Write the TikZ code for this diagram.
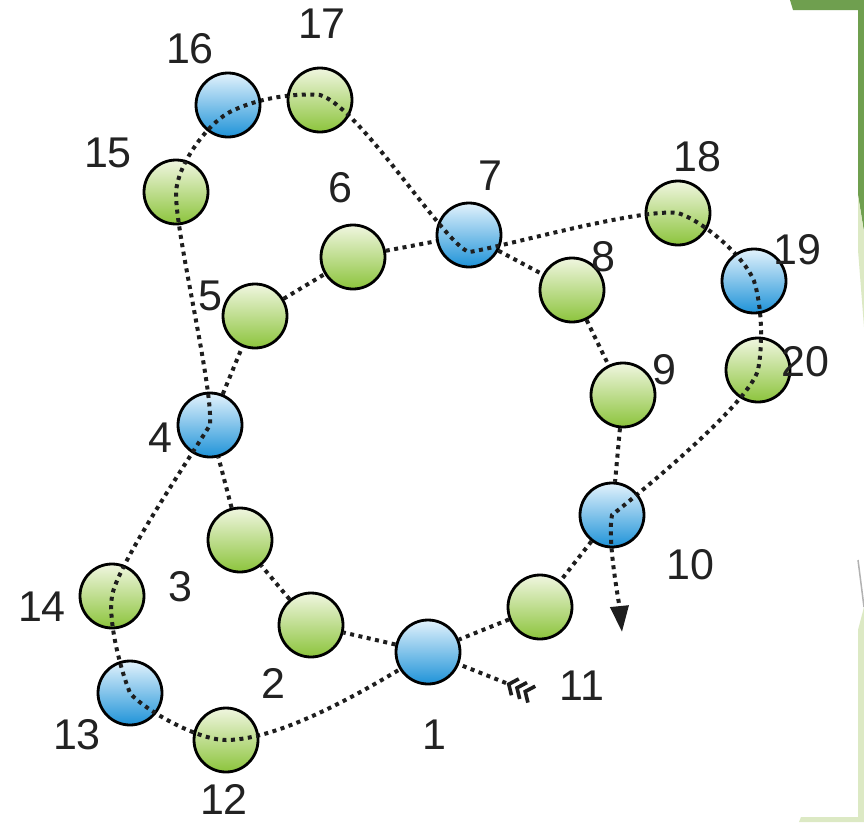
\documentclass[tikz,border=0pt]{standalone}
\usepackage{fontspec}
\setmainfont{Liberation Sans}
\usetikzlibrary{arrows.meta,calc,backgrounds}
\definecolor{gtop}{HTML}{F0F6E0}
\definecolor{gmid}{HTML}{C5DF90}
\definecolor{gbot}{HTML}{8CC43C}
\definecolor{btop}{HTML}{E2F2FC}
\definecolor{bmid}{HTML}{8ACBF0}
\definecolor{bbot}{HTML}{1F93D8}
\definecolor{dotc}{HTML}{1E1E1E}
\definecolor{dkgreen}{HTML}{6F9F4F}
\definecolor{ltgreen}{HTML}{DCE9C4}
\definecolor{txt}{HTML}{222222}
\newcommand\outerroute{(T) -- (n1.center)
 .. controls +(-45,28) and +(60,0) .. (n12.center)
 .. controls +(-30,0) and +(12,15) .. (n13.center)
 .. controls +(-10,-25) and +(-4,25) .. (n14.center)
 .. controls +(5,-30) and +(-25,40) .. (n4.center)
 .. controls +(3,-40) and +(-1,40) .. (n15.center)
 .. controls +(2,-28) and +(-22,13) .. (d16)
 .. controls +(30,-16) and +(-22,-2) .. (d17)
 .. controls +(40,12) and +(-25,-8) .. (d7)
 .. controls +(25,-3) and +(-40,-5) .. (n18.center)
 .. controls +(25,8) and +(-10,-25) .. (n19.center)
 .. controls +(8,25) and +(5,-25) .. (n20.center)
 .. controls +(-10,35) and +(25,-20) .. (n10.center)
 .. controls +(-5,25) and +(-3,-30) .. (A)}
\begin{document}
\begin{tikzpicture}[x=1pt,y=-1pt,
  ball/.style={circle, minimum size=64pt, inner sep=0pt, draw=black, line width=2.8pt},
  gball/.style={ball, top color=gtop, middle color=gmid, bottom color=gbot},
  bball/.style={ball, top color=btop, middle color=bmid, bottom color=bbot},
  lbl/.style={font=\fontsize{43}{43}\selectfont, text=txt, inner sep=0pt},
  dotline/.style={draw=dotc, line width=4pt, dash pattern=on 4pt off 4.5pt},
  feather/.style={draw=dotc, line width=3.6pt},
]
\useasboundingbox (0,0) rectangle (864,822);

% nodes
\node[bball] (n1) at (428,652) {};
\node[gball] (n2) at (311,625) {};
\node[gball] (n3) at (240,540) {};
\node[bball] (n4) at (210,425) {};
\node[gball] (n5) at (255,316) {};
\node[gball] (n6) at (353,257) {};
\node[bball] (n7) at (469,235) {};
\node[gball] (n8) at (572,290) {};
\node[gball] (n9) at (623,395) {};
\node[bball] (n10) at (612,515) {};
\node[gball] (n11) at (540,607) {};
\node[gball] (n12) at (226,740) {};
\node[bball] (n13) at (130,693) {};
\node[gball] (n14) at (112,596) {};
\node[gball] (n15) at (176,192) {};
\node[bball] (n16) at (228,105) {};
\node[gball] (n17) at (320,100) {};
\node[gball] (n18) at (678,213) {};
\node[bball] (n19) at (754,281) {};
\node[gball] (n20) at (758,370) {};

\coordinate (T) at (506,683);
\coordinate (d7) at ($(n7)+(0,17)$);
\coordinate (d16) at ($(n16)+(0,8)$);
\coordinate (d17) at ($(n17)+(0,-5)$);
\coordinate (A) at (622,632);

\begin{pgfonlayer}{background}
  \fill[white] (0,0) rectangle (864,822);
  % slide decorations at the right edge
  \fill[dkgreen] (790,0) -- (864,0) -- (864,232) -- (858,195) -- (858,10) -- (793,10) -- cycle;
  \fill[ltgreen] (858,195) -- (864,232) -- (864,327) -- (858,250) -- cycle;
  \draw[gray!60, line width=1.5pt] (858,560) -- (864,607);
  \fill[ltgreen] (858,630) -- (864,607) -- (864,822) -- (799,822) -- (801,817) -- (858,817) -- cycle;
  % main loop
  \draw[dotline] (n1) edge (n2) (n2) edge (n3) (n3) edge (n4) (n4) edge (n5)
    (n5) edge (n6) (n6) edge (n7) (n7) edge (n8) (n8) edge (n9) (n9) edge (n10)
    (n10) edge (n11) (n11) edge (n1);
  % outer route behind the balls
  \draw[dotline, -{Triangle[length=26pt,width=18pt]}] \outerroute;
\end{pgfonlayer}

% outer route seen on top of the balls
\begin{scope}
  \clip (n4) circle[radius=32] (n7) circle[radius=32] (n10) circle[radius=32]
        (n12) circle[radius=32] (n13) circle[radius=32] (n14) circle[radius=32]
        (n15) circle[radius=32] (n16) circle[radius=32] (n17) circle[radius=32]
        (n18) circle[radius=32] (n19) circle[radius=32] (n20) circle[radius=32];
  \draw[dotline] \outerroute;
\end{scope}

% feathers at the tail
\begin{scope}[shift={(T)}, rotate=-24]
  \draw[feather] (10,-9) -- (3,0) -- (10,9);
  \draw[feather] (19,-9) -- (12,0) -- (19,9);
  \draw[feather] (28,-9) -- (21,0) -- (28,9);
\end{scope}

% labels
\node[lbl] (l1) at (434,735) {1};
\node[lbl] (l2) at (273,683) {2};
\node[lbl] (l3) at (180,587) {3};
\node[lbl] (l4) at (160,438) {4};
\node[lbl] (l5) at (210,296) {5};
\node[lbl] (l6) at (340,188) {6};
\node[lbl] (l7) at (490,176) {7};
\node[lbl] (l8) at (603,257) {8};
\node[lbl] (l9) at (664,370) {9};
\node[lbl] (l10) at (690,565) {10};
\node[lbl] (l11) at (582,686) {11};
\node[lbl] (l12) at (224,799) {12};
\node[lbl] (l13) at (77,735) {13};
\node[lbl] (l14) at (42,607) {14};
\node[lbl] (l15) at (108,153) {15};
\node[lbl] (l16) at (190,49) {16};
\node[lbl] (l17) at (322,24) {17};
\node[lbl] (l18) at (697,157) {18};
\node[lbl] (l19) at (797,250) {19};
\node[lbl] (l20) at (805,362) {20};
\end{tikzpicture}
\end{document}
